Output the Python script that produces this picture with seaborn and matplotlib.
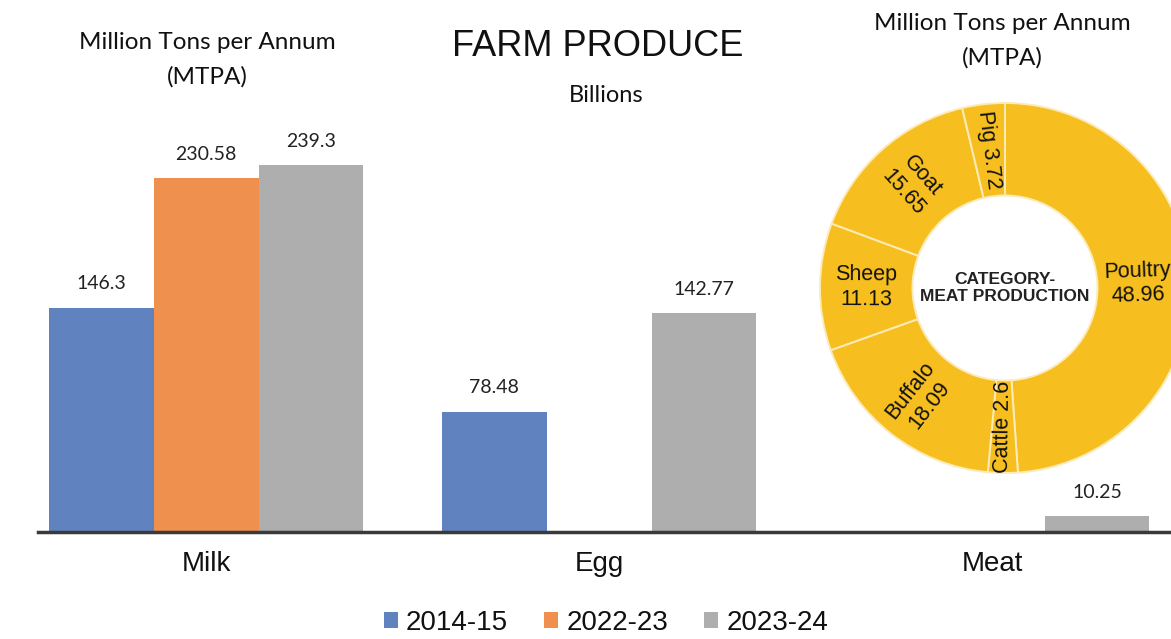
import math
import pandas as pd
import matplotlib
matplotlib.use("Agg")
import matplotlib.pyplot as plt
import seaborn as sns

# bar data (None = no bar drawn for that period)
products = ["Milk", "Egg", "Meat"]
periods = ["2014-15", "2022-23", "2023-24"]
val_2014 = [146.3, 78.48, None]
val_2022 = [230.58, None, None]
val_2023 = [239.3, 142.77, 10.25]

# donut data, clockwise from 12 o'clock
meat_types = ["Poultry", "Cattle", "Buffalo", "Sheep", "Goat", "Pig"]
meat_values = [48.96, 2.6, 18.09, 11.13, 15.65, 3.72]
meat_labels = ["Poultry\n48.96", "Cattle 2.6", "Buffalo\n18.09", "Sheep\n11.13", "Goat\n15.65", "Pig 3.72"]

colors = {"2014-15": "#6083C0", "2022-23": "#EF904F", "2023-24": "#AEAEAE"}
donut_color = "#F6BE1E"

W, H = 1171, 639

rows = []
for vals, per in zip([val_2014, val_2022, val_2023], periods):
    for prod, v in zip(products, vals):
        rows.append({"product": prod, "period": per, "value": v})
df = pd.DataFrame(rows).dropna()

sns.set_style("white")
plt.rcParams["font.family"] = ["Liberation Sans", "DejaVu Sans"]

fig = plt.figure(figsize=(W / 100, H / 100), dpi=100)

# main bar axes: baseline at y=532 px, left edge at x=38 px
ax = fig.add_axes([38 / W, (H - 532) / H, (W - 38) / W, 532 / H])
sns.barplot(
    data=df, x="product", y="value", hue="period",
    order=products, hue_order=periods, palette=colors,
    width=0.8, linewidth=0, saturation=1, legend=True, ax=ax,
)
ax.set_xlim(-0.428, 2.455)
ax.set_ylim(0, 346.8)
ax.set_xlabel("")
ax.set_ylabel("")
ax.set_yticks([])
for s in ["top", "right", "left"]:
    ax.spines[s].set_visible(False)
ax.spines["bottom"].set_color("#3a3a3a")
ax.spines["bottom"].set_linewidth(2.5)
ax.tick_params(axis="x", length=0, labelsize=20, pad=14, labelcolor="#111111")

for cont in ax.containers:
    ax.bar_label(cont, fmt="%g", padding=11, fontsize=14, family="Lato", color="#222222")

handles, labels = ax.get_legend_handles_labels()
ax.get_legend().remove()
fig.legend(
    handles, labels, loc="center", bbox_to_anchor=(606 / W, 1 - 623 / H),
    ncol=3, frameon=False, fontsize=20, handlelength=0.5, handleheight=0.5,
    handletextpad=0.3, columnspacing=1.3, labelcolor="#111111",
)

# titles
fig.text(598 / W, 1 - 47 / H, "FARM PRODUCE", ha="center", va="center", fontsize=26, color="#111111")
fig.text(606 / W, 1 - 96 / H, "Billions", ha="center", va="center", fontsize=17, family="Lato", color="#111111")
fig.text(207 / W, 1 - 60 / H, "Million Tons per Annum\n(MTPA)", ha="center", va="center",
         fontsize=17.5, family="Lato", linespacing=1.75, color="#111111")
fig.text(1002 / W, 1 - 41 / H, "Million Tons per Annum\n(MTPA)", ha="center", va="center",
         fontsize=17.5, family="Lato", linespacing=1.75, color="#111111")

# donut: centre (1005, 288) px, outer radius 185 px
cx, cy, r = 1005, 288, 185
pax = fig.add_axes([(cx - r) / W, (H - cy - r) / H, 2 * r / W, 2 * r / H])
wedges, _ = pax.pie(
    meat_values, startangle=90, counterclock=False,
    colors=[donut_color] * len(meat_values),
    wedgeprops=dict(width=0.5, edgecolor="#FCEBB8", linewidth=1.4),
)
pax.set_xlim(-1, 1)
pax.set_ylim(-1, 1)
pax.set_aspect("auto")
pax.axis("off")

for w, lab in zip(wedges, meat_labels):
    ang = (w.theta1 + w.theta2) / 2
    rad = math.radians(ang)
    dist = 0.72 if lab.startswith("Poultry") else 0.75
    x = dist * math.cos(rad)
    y = dist * math.sin(rad)
    rot = ang % 360
    if 90 < rot <= 270:
        rot -= 180
    elif rot > 270:
        rot -= 360
    pax.text(x, y, lab, ha="center", va="center", rotation=rot,
             fontsize=15.5, color="#111111", linespacing=1.25)

pax.text(0, 0, "CATEGORY-\nMEAT PRODUCTION", ha="center", va="center",
         fontsize=12.5, fontweight="bold", color="#222222", linespacing=1.2)

fig.savefig("out.png", dpi=100)
